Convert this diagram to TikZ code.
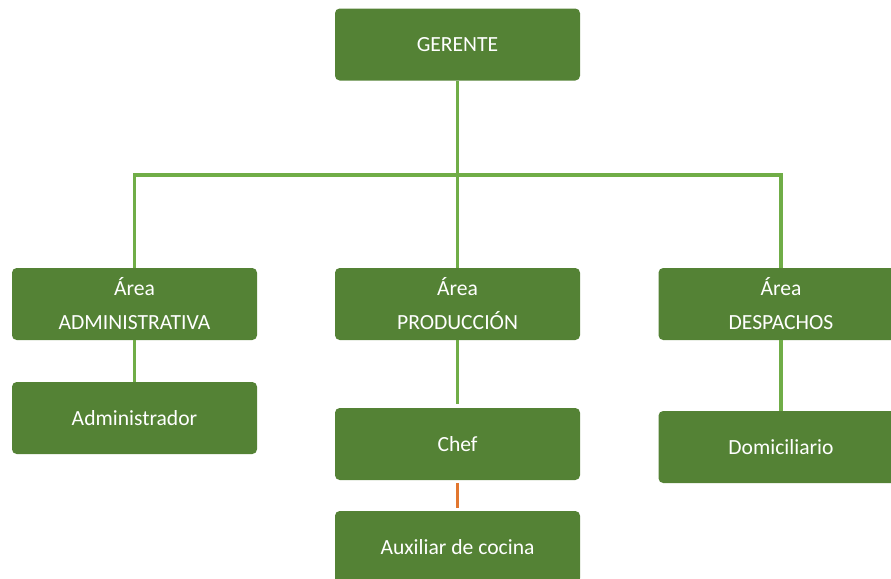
\documentclass[tikz,border=0pt]{standalone}
\usepackage{fontspec}
\setmainfont{Carlito}
\usepackage{tikz}
\definecolor{boxgreen}{HTML}{548235}
\definecolor{linegreen}{HTML}{70AD47}
\definecolor{lineorange}{HTML}{E2772F}

\begin{document}
\begin{tikzpicture}[x=0.75pt,y=-0.75pt]
    \tikzstyle{box} = [fill=boxgreen,text=white,rounded corners=3.5pt,minimum width=183.75pt,minimum height=54pt,inner sep=0pt,align=center,font=\fontsize{16.2}{25.5}\selectfont]
\tikzstyle{link} = [draw=linegreen,line width=2.4pt]
\tikzstyle{link2} = [draw=lineorange,line width=1.6pt]

\clip (0,0) rectangle (891,578);

\node[box] (ger) at (457.5,44.5) {GERENTE};

\node[box] (adm) at (134.5,304) {Área\\ADMINISTRATIVA};
\node[box] (prod) at (457.5,304) {Área\\PRODUCCIÓN};
\node[box] (desp) at (781,304) {Área\\DESPACHOS};

\node[box] (admr) at (134.5,418) {Administrador};
\node[box] (chef) at (457.5,444) {Chef};
\node[box] (dom) at (781,447) {Domiciliario};
\node[box] (aux) at (457.5,547) {Auxiliar de cocina};

\coordinate (bar) at (457.5,175);

\draw[link] (ger) -- (prod);
\draw[link] (adm) |- (bar) -| (desp);
\draw[link] (adm) -- (admr);
\draw[link,shorten >=3pt] (prod) -- (chef);
\draw[link] (desp) -- (dom);
\draw[link2,shorten <=2pt,shorten >=2pt] (chef) -- (aux);

\end{tikzpicture}
\end{document}
